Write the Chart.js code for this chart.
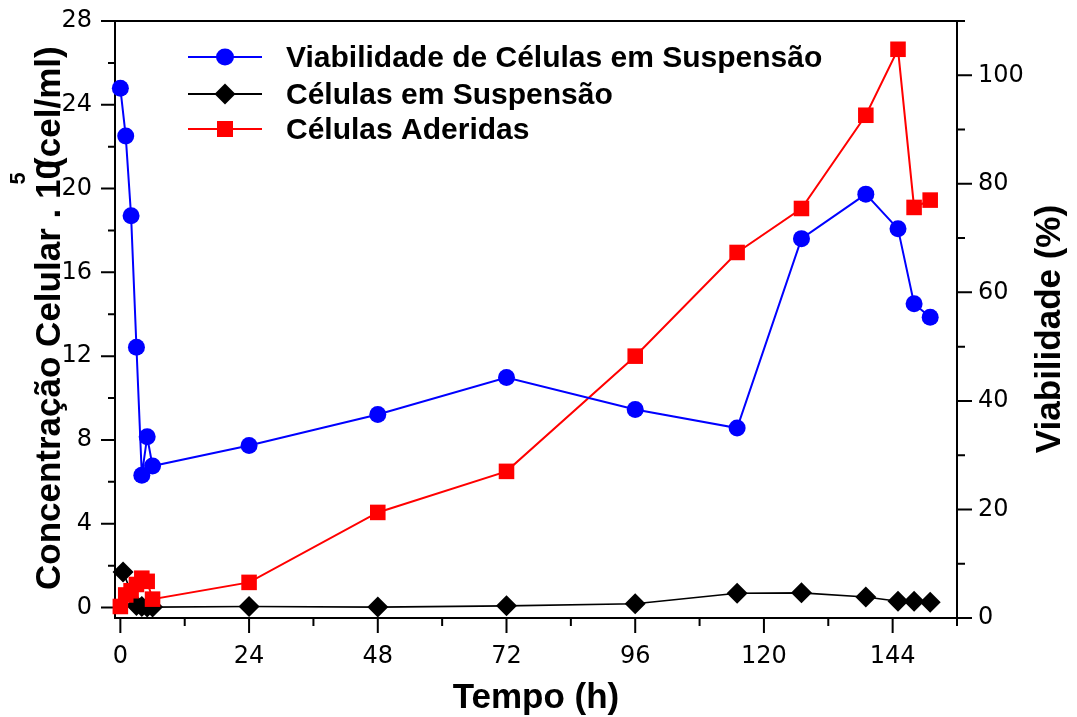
<!DOCTYPE html>
<html>
<head>
<meta charset="utf-8">
<script src="https://cdn.jsdelivr.net/npm/chart.js@4.4.1/dist/chart.umd.min.js"></script>
<style>
html,body{margin:0;padding:0;background:#fff;}
canvas{display:block;}
</style>
</head>
<body>
<canvas id="c" width="1077" height="717"></canvas>
<script>
// ---- data ----
const hoursViab = [0, 1, 2, 3, 4, 5, 6, 24, 48, 72, 96, 115, 127, 139, 145, 148, 151];
const viabilidade = [97.6, 88.8, 74.1, 49.9, 26.3, 33.4, 28.0, 31.8, 37.5, 44.3, 38.4, 35.0, 69.9, 78.1, 71.7, 57.9, 55.4];

const hoursSusp = [0.5, 3, 4, 5, 6, 24, 48, 72, 96, 115, 127, 139, 145, 148, 151];
const celulasSuspensao = [1.7, 0.1, 0.05, 0.02, 0.02, 0.05, 0.02, 0.08, 0.18, 0.68, 0.7, 0.5, 0.3, 0.3, 0.25];

const hoursAder = [0, 1, 2, 3, 4, 5, 6, 24, 48, 72, 96, 115, 127, 139, 145, 148, 151];
const celulasAderidas = [0.05, 0.6, 0.8, 1.1, 1.4, 1.25, 0.4, 1.2, 4.54, 6.5, 12.0, 16.95, 19.05, 23.5, 26.65, 19.1, 19.45];

const xTickLabels = [0, 24, 48, 72, 96, 120, 144];
const yTickLabels = [0, 4, 8, 12, 16, 20, 24, 28];
const y2TickLabels = [0, 20, 40, 60, 80, 100];
const xMinorTicks = [12, 36, 60, 84, 108, 132, 156];
const yMinorTicks = [2, 6, 10, 14, 18, 22, 26];
const y2MinorTicks = [10, 30, 50, 70, 90, 110];

const seriesNames = ['Viabilidade de Células em Suspensão', 'Células em Suspensão', 'Células Aderidas'];
const xTitle = 'Tempo (h)';
const y2Title = 'Viabilidade (%)';
const yTitleMain = 'Concentração Celular . 10';
const yTitleSup = '5';
const yTitleUnit = '(cel/ml)';

const toXY = (xs, ys) => xs.map((x, i) => ({x: x, y: ys[i]}));

const TICK_FONT = {family: '"DejaVu Sans", sans-serif', size: 24, weight: 'normal'};
const BOLD = '"Liberation Sans", Arial, Helvetica, sans-serif';

const fixedTicks = (vals) => (scale) => { scale.ticks = vals.map(v => ({value: v})); };
const fitSize = (prop, val) => (s) => {
  s[prop] = val;
  s.paddingTop = 0; s.paddingBottom = 0; s.paddingLeft = 0; s.paddingRight = 0;
};

const frameTicksPlugin = {
  id: 'frameTicks',
  beforeDatasetsDraw(chart) {
    const ctx = chart.ctx;
    const a = chart.chartArea;
    const {x, y, y2} = chart.scales;
    ctx.save();
    ctx.strokeStyle = '#000';
    ctx.lineWidth = 2;
    ctx.lineCap = 'butt';
    ctx.beginPath();
    ctx.moveTo(a.left - 1, a.top);
    ctx.lineTo(a.right + 1, a.top);
    xTickLabels.forEach(v => { const p = x.getPixelForValue(v); ctx.moveTo(p, a.bottom); ctx.lineTo(p, a.bottom + 15); });
    xMinorTicks.forEach(v => { const p = x.getPixelForValue(v); ctx.moveTo(p, a.bottom); ctx.lineTo(p, a.bottom + 8); });
    yTickLabels.forEach(v => { const p = y.getPixelForValue(v); ctx.moveTo(a.left, p); ctx.lineTo(a.left - 14, p); });
    yMinorTicks.forEach(v => { const p = y.getPixelForValue(v); ctx.moveTo(a.left, p); ctx.lineTo(a.left - 7, p); });
    y2TickLabels.forEach(v => { const p = y2.getPixelForValue(v); ctx.moveTo(a.right, p); ctx.lineTo(a.right + 15, p); });
    y2MinorTicks.forEach(v => { const p = y2.getPixelForValue(v); ctx.moveTo(a.right, p); ctx.lineTo(a.right + 8, p); });
    ctx.stroke();
    ctx.restore();
  },
  afterDraw(chart) {
    const ctx = chart.ctx;
    const a = chart.chartArea;
    ctx.save();
    ctx.fillStyle = '#000';
    ctx.font = 'bold 35px ' + BOLD;
    ctx.textAlign = 'center';
    ctx.textBaseline = 'alphabetic';
    ctx.fillText(xTitle, (a.left + a.right) / 2, 708);
    ctx.save();
    ctx.translate(1060, 329);
    ctx.rotate(-Math.PI / 2);
    ctx.fillText(y2Title, 0, 0);
    ctx.restore();
    ctx.save();
    ctx.translate(60, 590);
    ctx.rotate(-Math.PI / 2);
    ctx.textAlign = 'left';
    ctx.font = 'bold 35px ' + BOLD;
    ctx.fillText(yTitleMain, 0, 0);
    const wMain = ctx.measureText(yTitleMain).width;
    const wZero = ctx.measureText('0').width;
    ctx.fillText(yTitleUnit, wMain - wZero * 0.45, 0);
    ctx.font = 'bold 22px ' + BOLD;
    ctx.fillText(yTitleSup, wMain - wZero * 1.25, -35);
    ctx.restore();
    const rows = [57, 94, 129];
    const colors = ['#0000ff', '#000000', '#ff0000'];
    rows.forEach((ry, i) => {
      ctx.strokeStyle = colors[i];
      ctx.fillStyle = colors[i];
      ctx.lineWidth = 2;
      ctx.beginPath();
      ctx.moveTo(188, ry);
      ctx.lineTo(262, ry);
      ctx.stroke();
      ctx.beginPath();
      if (i === 0) {
        ctx.ellipse(225, ry, 9, 8.5, 0, 0, Math.PI * 2);
      } else if (i === 1) {
        ctx.moveTo(225 - 10.5, ry); ctx.lineTo(225, ry - 10.5); ctx.lineTo(225 + 10.5, ry); ctx.lineTo(225, ry + 10.5); ctx.closePath();
      } else {
        ctx.rect(225 - 8, ry - 8, 16, 16);
      }
      ctx.fill();
      ctx.fillStyle = '#000';
      ctx.font = 'bold 30px ' + BOLD;
      ctx.textAlign = 'left';
      ctx.textBaseline = 'middle';
      ctx.fillText(seriesNames[i], 286, ry + 2);
    });
    ctx.restore();
  }
};

new Chart(document.getElementById('c'), {
  type: 'scatter',
  data: {
    datasets: [
      {
        label: seriesNames[0], data: toXY(hoursViab, viabilidade), yAxisID: 'y2', order: 0,
        showLine: true, borderColor: '#0000ff', backgroundColor: '#0000ff', borderWidth: 2,
        pointStyle: 'circle', pointRadius: 8.5, pointHoverRadius: 8.5, pointBorderWidth: 0,
        pointBackgroundColor: '#0000ff', clip: false
      },
      {
        label: seriesNames[1], data: toXY(hoursSusp, celulasSuspensao), yAxisID: 'y', order: 2,
        showLine: true, borderColor: '#000000', backgroundColor: '#000000', borderWidth: 1.6,
        pointStyle: 'rectRot', pointRadius: 10.5, pointHoverRadius: 10.5, pointBorderWidth: 0,
        pointBackgroundColor: '#000000', clip: false
      },
      {
        label: seriesNames[2], data: toXY(hoursAder, celulasAderidas), yAxisID: 'y', order: 1,
        showLine: true, borderColor: '#ff0000', backgroundColor: '#ff0000', borderWidth: 2,
        pointStyle: 'rect', pointRadius: 11, pointHoverRadius: 11, pointBorderWidth: 0,
        pointBackgroundColor: '#ff0000', clip: false
      }
    ]
  },
  options: {
    responsive: false,
    animation: false,
    devicePixelRatio: 1,
    layout: {padding: {top: 21, left: 0, right: 0, bottom: 0}},
    plugins: {legend: {display: false}, tooltip: {enabled: false}},
    scales: {
      x: {
        type: 'linear', position: 'bottom', min: -1, max: 156,
        afterBuildTicks: fixedTicks(xTickLabels),
        afterFit: fitSize('height', 99),
        grid: {display: false},
        border: {display: true, color: '#000', width: 2},
        ticks: {font: TICK_FONT, color: '#000', padding: 16, maxRotation: 0, autoSkip: false}
      },
      y: {
        type: 'linear', position: 'left', min: -0.5, max: 28,
        afterBuildTicks: fixedTicks(yTickLabels),
        afterFit: fitSize('width', 115),
        grid: {display: false},
        border: {display: true, color: '#000', width: 2},
        ticks: {font: TICK_FONT, color: '#000', padding: 15, autoSkip: false}
      },
      y2: {
        type: 'linear', position: 'right', min: 0, max: 110,
        afterBuildTicks: fixedTicks(y2TickLabels),
        afterFit: fitSize('width', 120),
        grid: {display: false},
        border: {display: true, color: '#000', width: 2},
        ticks: {font: TICK_FONT, color: '#000', padding: 13, autoSkip: false}
      }
    }
  },
  plugins: [frameTicksPlugin]
});
</script>
</body>
</html>
